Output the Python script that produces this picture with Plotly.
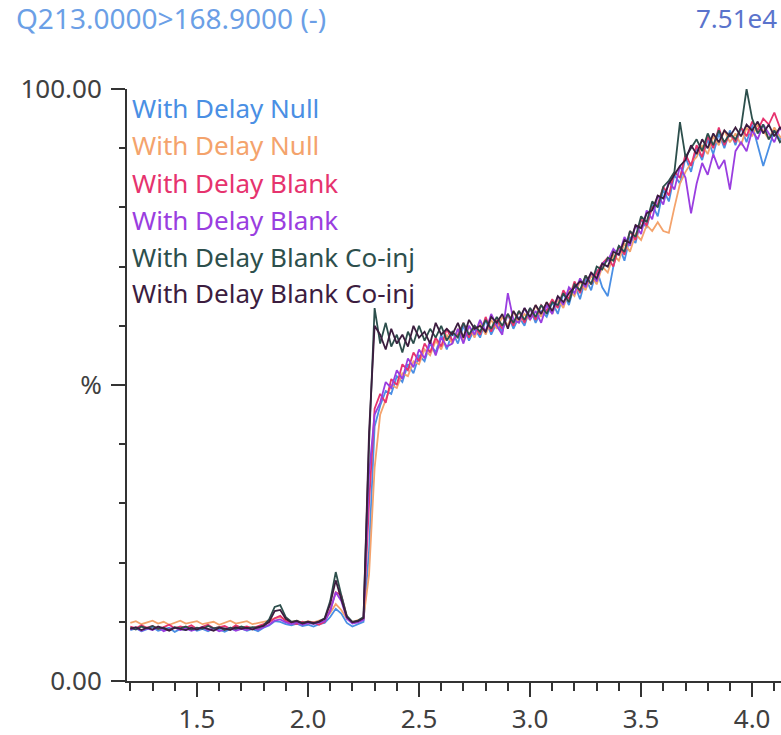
import plotly.graph_objects as go

# Retention time (min), shared by all six chromatogram traces
times = [
    1.200, 1.225, 1.250, 1.275, 1.300, 1.325, 1.350, 1.375, 1.400, 1.425,
    1.450, 1.475, 1.500, 1.525, 1.550, 1.575, 1.600, 1.625, 1.650, 1.675,
    1.700, 1.725, 1.750, 1.775, 1.800, 1.825, 1.850, 1.875, 1.900, 1.925,
    1.950, 1.975, 2.000, 2.025, 2.050, 2.075, 2.100, 2.125, 2.150, 2.175,
    2.200, 2.225, 2.250, 2.275, 2.300, 2.325, 2.350, 2.375, 2.400, 2.425,
    2.450, 2.475, 2.500, 2.525, 2.550, 2.575, 2.600, 2.625, 2.650, 2.675,
    2.700, 2.725, 2.750, 2.775, 2.800, 2.825, 2.850, 2.875, 2.900, 2.925,
    2.950, 2.975, 3.000, 3.025, 3.050, 3.075, 3.100, 3.125, 3.150, 3.175,
    3.200, 3.225, 3.250, 3.275, 3.300, 3.325, 3.350, 3.375, 3.400, 3.425,
    3.450, 3.475, 3.500, 3.525, 3.550, 3.575, 3.600, 3.625, 3.650, 3.675,
    3.700, 3.725, 3.750, 3.775, 3.800, 3.825, 3.850, 3.875, 3.900, 3.925,
    3.950, 3.975, 4.000, 4.025, 4.050, 4.075, 4.100, 4.125, 4.150,
]

# Relative intensity (%) per injection
null_1 = [
    8.6, 8.9, 8.4, 8.8, 9.1, 8.5, 8.7, 9.0, 8.3, 8.8,
    8.6, 9.0, 8.5, 8.8, 8.4, 8.9, 8.7, 8.3, 8.8, 8.6,
    8.9, 8.5, 8.8, 8.4, 9.0, 9.4, 10.1, 10.0, 9.6, 9.4,
    9.7, 9.3, 9.5, 9.2, 9.6, 9.8, 10.8, 12.2, 11.4, 9.8,
    9.2, 9.6, 10.0, 22.0, 43.0, 46.5, 49.0, 48.5, 51.5, 50.5,
    53.5, 52.0, 55.0, 54.0, 57.0, 55.5, 58.5, 56.0, 59.0, 57.0,
    60.0, 57.5, 59.5, 58.0, 61.0, 58.5, 60.5, 59.0, 62.0, 59.5,
    61.5, 60.0, 63.0, 60.5, 62.5, 61.5, 64.0, 62.0, 65.5, 63.5,
    67.0, 64.5, 68.0, 66.0, 69.5, 66.5, 65.0, 70.0, 73.5, 71.0,
    75.0, 74.0, 78.0, 76.5, 80.5, 78.5, 83.0, 81.0, 85.5, 84.0,
    88.5, 86.0, 90.0, 88.0, 91.5, 89.0, 92.5, 90.0, 93.0, 90.5,
    93.5, 91.0, 94.0, 90.5, 87.0, 90.0, 93.0, 91.5, 92.5,
]
null_2 = [
    9.8, 10.1, 9.6, 9.9, 10.2, 9.7, 10.0, 9.5, 9.9, 10.2,
    9.7, 9.9, 10.1, 9.6, 9.8, 10.0, 9.5, 9.9, 10.2, 9.7,
    9.9, 10.1, 9.6, 9.8, 10.0, 10.2, 10.6, 10.8, 10.3, 10.0,
    10.2, 9.8, 10.1, 9.9, 10.2, 10.4, 11.5, 13.0, 12.0, 10.5,
    10.0, 10.3, 10.6, 18.0, 36.0, 45.0, 47.5, 50.0, 49.5, 52.0,
    51.5, 54.0, 53.5, 56.0, 55.0, 57.5, 56.0, 58.5, 57.0, 59.5,
    57.5, 60.0, 58.0, 60.5, 58.5, 61.0, 59.5, 61.5, 60.0, 62.5,
    60.5, 62.0, 61.0, 63.5, 61.5, 64.0, 62.0, 64.5, 63.0, 66.0,
    65.0, 67.5, 66.0, 68.5, 67.0, 70.0, 69.0, 72.0, 71.0, 74.0,
    72.5, 75.5, 74.5, 77.0, 76.0, 77.5, 76.0, 75.7, 80.0, 84.0,
    86.0, 87.5, 88.5, 90.5, 89.0, 92.0, 90.5, 93.0, 91.0, 92.5,
    90.5, 93.5, 92.0, 94.0, 93.0, 91.5, 93.5, 92.0, 91.0,
]
blank_1 = [
    9.2, 8.9, 9.4, 9.0, 9.3, 8.8, 9.1, 9.5, 8.9, 9.2,
    9.0, 9.4, 8.8, 9.2, 9.5, 8.9, 9.1, 9.3, 8.8, 9.4,
    9.0, 9.2, 8.9, 9.3, 9.6, 9.9, 10.6, 11.0, 10.1, 9.8,
    9.6, 10.0, 9.7, 9.9, 9.5, 10.0, 12.0, 15.0, 14.5, 10.8,
    9.9, 10.1, 10.5, 30.0, 46.0, 48.5, 47.0, 51.0, 50.0, 53.5,
    52.5, 55.5, 54.0, 57.0, 55.5, 58.0, 56.5, 59.5, 57.5, 58.5,
    60.5, 58.0, 60.0, 58.5, 61.5, 59.0, 61.0, 59.5, 62.0, 60.0,
    62.5, 60.5, 63.0, 61.0, 63.5, 62.5, 64.5, 63.0, 66.0, 64.5,
    67.5, 65.5, 68.5, 67.0, 69.0, 70.5, 71.5, 70.0, 73.5, 72.0,
    76.0, 74.5, 78.0, 77.0, 80.0, 80.5, 83.5, 82.0, 86.0, 85.0,
    89.0, 87.0, 90.5, 88.5, 92.0, 90.0, 93.5, 90.5, 92.5, 91.0,
    93.5, 92.0, 94.5, 93.0, 95.0, 94.0, 96.0, 93.5, 92.5,
]
blank_2 = [
    8.7, 9.0, 8.5, 8.9, 8.6, 9.1, 8.4, 8.8, 9.0, 8.6,
    8.9, 8.5, 8.8, 9.1, 8.6, 8.9, 8.4, 8.7, 9.0, 8.5,
    8.8, 8.6, 9.0, 8.7, 9.1, 9.5, 10.2, 10.4, 9.9, 9.6,
    9.9, 9.5, 9.8, 9.6, 9.9, 10.1, 11.8, 15.0, 13.5, 10.5,
    9.7, 9.9, 10.3, 35.0, 45.0, 47.0, 50.5, 49.5, 52.5, 51.0,
    54.5, 53.0, 56.0, 54.5, 57.5, 55.0, 58.0, 56.5, 57.0, 59.5,
    57.0, 60.0, 58.5, 61.0, 59.0, 62.0, 60.0, 58.5, 65.5, 61.0,
    60.5, 63.0, 61.0, 62.5, 60.5, 63.5, 62.0, 65.0, 63.5, 66.5,
    65.5, 68.0, 66.5, 69.0, 67.5, 70.5, 71.0, 73.0, 72.0, 75.0,
    73.5, 77.0, 75.5, 79.5, 78.0, 82.0, 80.5, 84.5, 83.0, 87.0,
    85.0, 79.0, 84.0, 87.5, 85.5, 89.0, 86.5, 88.0, 83.0, 89.5,
    91.0, 89.5, 93.0, 91.5, 94.0, 92.5, 91.0, 93.5, 92.0,
]
coinj_1 = [
    9.0, 8.7, 9.2, 8.9, 9.3, 8.8, 9.0, 8.6, 9.1, 8.9,
    9.2, 8.7, 9.0, 8.8, 9.3, 8.9, 9.1, 8.6, 9.0, 8.8,
    9.2, 8.9, 9.1, 9.0, 9.4, 10.4, 12.5, 12.8, 10.8, 10.0,
    10.2, 9.8, 10.0, 9.7, 10.1, 10.6, 13.5, 18.4, 14.5, 11.0,
    10.0, 10.2, 10.8, 40.0, 63.0, 57.0, 60.5, 56.5, 58.5, 55.5,
    59.0, 57.0, 60.0, 57.5, 59.5, 58.0, 60.0, 57.5, 59.0, 58.0,
    60.5, 58.5, 60.0, 59.0, 61.0, 59.5, 61.5, 60.0, 62.0, 60.5,
    62.5, 61.0, 63.0, 61.5, 63.5, 62.0, 64.0, 63.5, 65.5, 64.0,
    67.0, 66.0, 68.5, 67.0, 70.0, 69.5, 71.5, 71.0, 73.5, 72.5,
    76.0, 75.0, 78.5, 77.5, 81.0, 80.0, 83.5, 84.5, 86.0, 94.4,
    88.5, 90.0, 91.5, 89.5, 92.5, 90.5, 93.0, 91.0, 92.5, 91.5,
    93.5, 100.0, 95.0, 92.5, 94.0, 91.5, 93.0, 91.0, 92.0,
]
coinj_2 = [
    8.8, 9.1, 8.6, 9.0, 8.7, 9.2, 8.9, 8.5, 9.0, 8.8,
    8.6, 9.0, 8.7, 9.1, 8.8, 8.5, 9.0, 8.9, 8.6, 9.1,
    8.8, 9.0, 8.7, 9.1, 9.3, 10.0, 11.8, 12.0, 10.5, 9.9,
    10.1, 9.7, 10.0, 9.8, 10.0, 10.5, 13.0, 17.0, 13.8, 10.8,
    9.9, 10.1, 10.6, 42.0, 60.0, 58.5, 56.0, 59.5, 57.0, 58.5,
    56.5, 60.0, 58.0, 59.0, 57.0, 60.5, 58.5, 59.5, 58.5, 60.5,
    58.0, 61.0, 59.5, 60.0, 59.0, 61.5, 60.5, 62.0, 59.5, 62.5,
    61.0, 63.0, 61.5, 63.5, 62.0, 64.0, 62.5, 65.0, 64.0, 65.5,
    66.5, 67.5, 67.0, 69.0, 68.0, 70.5, 70.0, 72.5, 72.0, 74.5,
    74.0, 77.0, 76.5, 79.0, 79.5, 82.0, 81.5, 84.0, 85.5, 87.0,
    88.0, 90.5, 89.0, 91.5, 90.0, 92.5, 91.0, 93.0, 92.0, 93.5,
    92.0, 94.0, 93.0, 94.5, 92.5, 94.0, 92.0, 93.5, 92.5,
]

series_names = [
    "With Delay Null",
    "With Delay Null",
    "With Delay Blank",
    "With Delay Blank",
    "With Delay Blank Co-inj",
    "With Delay Blank Co-inj",
]
series_values = [null_1, null_2, blank_1, blank_2, coinj_1, coinj_2]
series_colors = ["#4a8fe4", "#f4a36c", "#e6336e", "#9a3ee0", "#2d4f4c", "#3c1d3f"]

channel_label = "Q213.0000>168.9000 (-)"
intensity_label = "7.51e4"
y_tick_vals = [0, 50, 100]
y_tick_text = ["0.00", "%", "100.00"]

W, H = 781, 735
M_L, M_R, M_T, M_B = 127, 0, 89, 54
plot_w = W - M_L - M_R
plot_h = H - M_T - M_B

FONT = "Noto Sans"
AXIS_COLOR = "#333333"
LABEL_COLOR = "#404040"

fig = go.Figure()
for name, vals, col in zip(series_names, series_values, series_colors):
    fig.add_trace(go.Scatter(
        x=times, y=vals, mode="lines", name=name,
        line=dict(color=col, width=1.8),
        hoverinfo="skip",
    ))


def px_x(px):
    return (px - M_L) / plot_w


def px_y(py):
    return (H - M_B - py) / plot_h


annotations = [
    dict(text=channel_label, x=px_x(14), y=px_y(18), xref="paper", yref="paper",
         xanchor="left", yanchor="middle", showarrow=False,
         font=dict(family=FONT, size=28, color="#6b9fe6")),
    dict(text=intensity_label, x=px_x(779), y=px_y(18), xref="paper", yref="paper",
         xanchor="right", yanchor="middle", showarrow=False,
         font=dict(family=FONT, size=26, color="#5a73cc")),
]
legend_rows = [108, 145, 183, 220, 257, 293]
for name, col, row in zip(series_names, series_colors, legend_rows):
    annotations.append(dict(
        text=name, x=px_x(130), y=px_y(row), xref="paper", yref="paper",
        xanchor="left", yanchor="middle", showarrow=False,
        font=dict(family=FONT, size=26, color=col),
    ))

fig.update_layout(
    width=W, height=H,
    margin=dict(l=M_L, r=M_R, t=M_T, b=M_B, pad=0),
    paper_bgcolor="white", plot_bgcolor="white",
    showlegend=False,
    annotations=annotations,
    font=dict(family=FONT, size=26, color=LABEL_COLOR),
    xaxis=dict(
        range=[1.185, 4.13], showgrid=False, zeroline=False,
        showline=True, linecolor=AXIS_COLOR, linewidth=2,
        tickmode="linear", tick0=0, dtick=0.5, tickformat=".1f",
        ticks="outside", ticklen=14, tickwidth=2, tickcolor=AXIS_COLOR,
        minor=dict(dtick=0.1, tick0=0, ticks="outside", ticklen=8,
                   tickwidth=2, tickcolor=AXIS_COLOR),
        tickfont=dict(family=FONT, size=26, color=LABEL_COLOR),
    ),
    yaxis=dict(
        range=[0, 100], showgrid=False, zeroline=False,
        showline=True, linecolor=AXIS_COLOR, linewidth=2,
        tickmode="array", tickvals=y_tick_vals, ticktext=y_tick_text,
        ticks="outside", ticklen=14, tickwidth=2, tickcolor=AXIS_COLOR,
        ticklabelstandoff=4,
        minor=dict(dtick=10, tick0=0, ticks="outside", ticklen=6,
                   tickwidth=2, tickcolor=AXIS_COLOR),
        tickfont=dict(family=FONT, size=26, color=LABEL_COLOR),
    ),
)

fig.write_html("out.html")
